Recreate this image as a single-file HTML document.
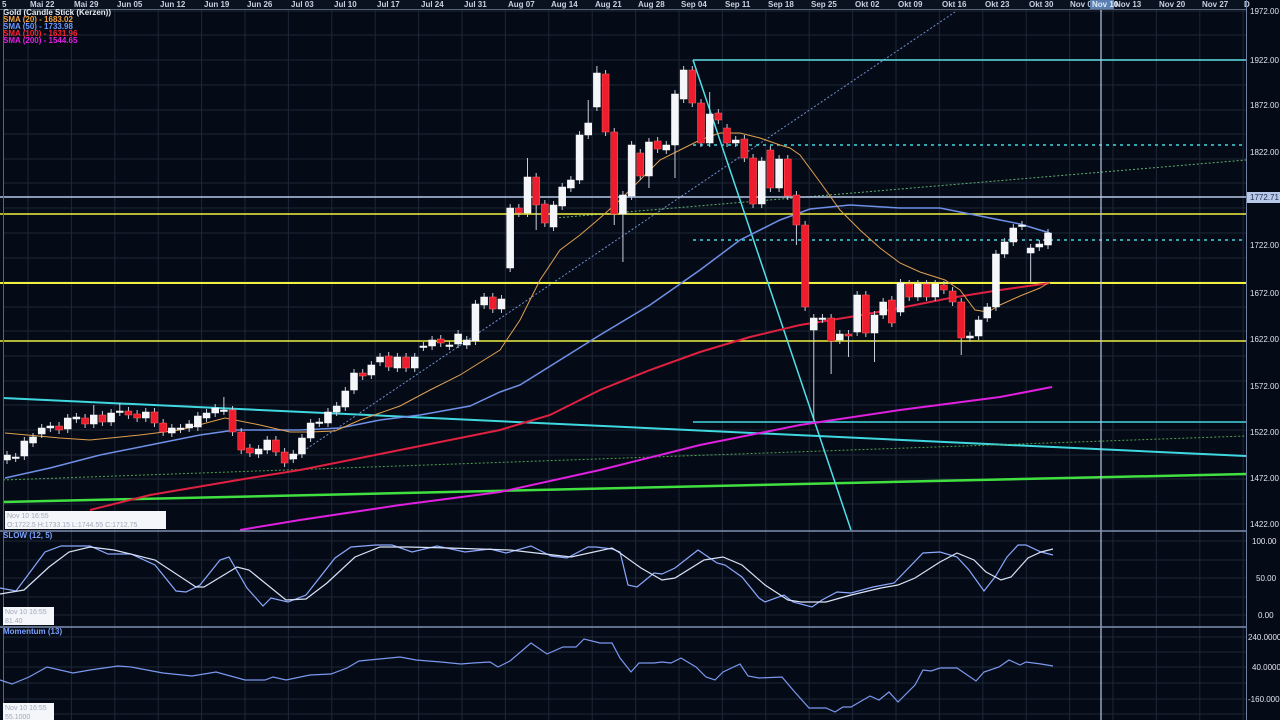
<!DOCTYPE html>
<html><head><meta charset="utf-8">
<style>
html,body{margin:0;padding:0;background:#050b16;width:1280px;height:720px;overflow:hidden}
svg{display:block}
text{font-family:"Liberation Sans",sans-serif}
</style></head>
<body>
<svg id="s" width="1280" height="720" xmlns="http://www.w3.org/2000/svg">
<rect width="1280" height="720" fill="#050b16"/>
<g id="grid" stroke="#1d2738" stroke-width="1"></g>
<!-- top date bar -->
<rect x="0" y="0" width="1246" height="9" fill="#0a1220"/>
<line x1="0" y1="9.5" x2="1246" y2="9.5" stroke="#5a6478"/>
<g font-size="8" font-weight="bold" fill="#c8d0e0" id="dates">
<text x="2" y="7">5</text>
<text x="30" y="7">Mai 22</text><text x="74" y="7">Mai 29</text><text x="117" y="7">Jun 05</text>
<text x="160" y="7">Jun 12</text><text x="204" y="7">Jun 19</text><text x="247" y="7">Jun 26</text>
<text x="291" y="7">Jul 03</text><text x="334" y="7">Jul 10</text><text x="377" y="7">Jul 17</text>
<text x="421" y="7">Jul 24</text><text x="464" y="7">Jul 31</text><text x="508" y="7">Aug 07</text>
<text x="551" y="7">Aug 14</text><text x="595" y="7">Aug 21</text><text x="638" y="7">Aug 28</text>
<text x="681" y="7">Sep 04</text><text x="725" y="7">Sep 11</text><text x="768" y="7">Sep 18</text>
<text x="811" y="7">Sep 25</text><text x="855" y="7">Okt 02</text><text x="898" y="7">Okt 09</text>
<text x="942" y="7">Okt 16</text><text x="985" y="7">Okt 23</text><text x="1029" y="7">Okt 30</text>
<text x="1070" y="7">Nov 0</text>
<text x="1115" y="7">Nov 13</text><text x="1159" y="7">Nov 20</text><text x="1202" y="7">Nov 27</text><text x="1244" y="7">D</text>
</g>
<rect x="1090" y="0" width="24" height="9" fill="#5a7fb0"/>
<text x="1092" y="7" font-size="8" font-weight="bold" fill="#dfe8f8">Nov 10</text>

<!-- legend -->
<g font-size="8" font-weight="bold">
<text x="3" y="15" fill="#e8ecf4">Gold (Candle Stick (Kerzen))</text>
<text x="3" y="22" fill="#f0a040">SMA (20) - 1683.02</text>
<text x="3" y="29" fill="#6f98ff">SMA (50) - 1733.98</text>
<text x="3" y="36" fill="#ff2030">SMA (100) - 1631.96</text>
<text x="3" y="43" fill="#e020e0">SMA (200) - 1544.65</text>
</g>

<!-- lines behind candles -->
<g fill="none">
<line x1="3" y1="398" x2="1246" y2="456" stroke="#40d8e0" stroke-width="2"/>
<line x1="3" y1="502" x2="1246" y2="474" stroke="#40e040" stroke-width="2.5"/>
<line x1="3" y1="480" x2="1246" y2="436" stroke="#50a050" stroke-width="1" stroke-dasharray="2,2"/>
<line x1="555" y1="218" x2="1246" y2="160" stroke="#60b070" stroke-width="1" stroke-dasharray="2,2"/>
<line x1="290" y1="460" x2="955" y2="12" stroke="#7090d0" stroke-width="1" stroke-dasharray="2,2"/>
<line x1="0" y1="214" x2="1246" y2="214" stroke="#f0f040" stroke-width="1.5"/>
<line x1="0" y1="283" x2="1246" y2="283" stroke="#f0f040" stroke-width="2"/>
<line x1="0" y1="341" x2="1246" y2="341" stroke="#f0f040" stroke-width="1.5"/>
<line x1="0" y1="197" x2="1246" y2="197" stroke="#b8c8e8" stroke-width="1.5"/>
<line x1="693" y1="60" x2="1246" y2="60" stroke="#60e0e8" stroke-width="1.5"/>
<line x1="693" y1="145" x2="1246" y2="145" stroke="#40d8e0" stroke-width="1.5" stroke-dasharray="3,4"/>
<line x1="693" y1="240" x2="1246" y2="240" stroke="#40d8e0" stroke-width="1.5" stroke-dasharray="3,4"/>
<line x1="693" y1="422" x2="1246" y2="422" stroke="#40d8e0" stroke-width="1.5"/>
<line x1="693" y1="60" x2="851" y2="530" stroke="#50e0e8" stroke-width="1.5"/>
<polyline stroke="#e020e0" stroke-width="2" points="240,530 300,520 400,505 500,492 600,470 700,445 800,425 900,410 1000,397 1052,387"/>
<polyline stroke="#e02040" stroke-width="2" points="90,510 150,495 250,478 300,470 400,450 500,430 550,415 600,390 650,370 700,352 750,337 800,325 850,317 900,308 950,298 1000,290 1050,283"/>
<polyline stroke="#6f90e8" stroke-width="1.5" points="5,478 50,468 100,455 150,445 200,435 235,430 300,430 340,428 380,420 420,415 470,406 500,392 520,385 560,360 600,335 650,305 700,270 740,240 780,220 810,209 850,205 900,208 940,208 980,216 1020,224 1050,233"/>
<polyline stroke="#e0a050" stroke-width="1" points="5,433 60,438 90,440 140,435 180,430 225,418 260,425 290,432 310,432 335,431 360,420 400,406 430,390 460,375 500,350 520,320 540,280 560,250 580,235 600,218 620,200 640,180 660,160 680,150 700,140 720,133 740,133 760,138 780,145 790,148 800,155 820,182 840,210 860,230 880,248 900,263 920,272 945,280 960,290 975,310 988,312 1000,305 1020,296 1040,288 1050,282"/>
</g>
<g id="candles"></g>

<!-- crosshair -->
<line x1="1101" y1="10" x2="1101" y2="720" stroke="#b8c8e8" stroke-width="1.2"/>

<!-- panel borders -->
<line x1="1246.5" y1="0" x2="1246.5" y2="720" stroke="#7080a0"/>
<line x1="0" y1="531" x2="1246" y2="531" stroke="#8090b0" stroke-width="1.5"/>
<line x1="0" y1="627" x2="1246" y2="627" stroke="#8090b0" stroke-width="1.5"/>
<line x1="3.5" y1="10" x2="3.5" y2="720" stroke="#5a6478"/>

<!-- right axis -->
<g font-size="8" fill="#e0e6f0">
<text x="1250" y="14">1972.00</text><text x="1250" y="63">1922.00</text><text x="1250" y="108">1872.00</text>
<text x="1250" y="155">1822.00</text><text x="1250" y="248">1722.00</text><text x="1250" y="296">1672.00</text>
<text x="1250" y="342">1622.00</text><text x="1250" y="389">1572.00</text><text x="1250" y="435">1522.00</text>
<text x="1250" y="481">1472.00</text><text x="1250" y="527">1422.00</text>
<text x="1252" y="544">100.00</text><text x="1256" y="581">50.00</text><text x="1258" y="618">0.00</text>
<text x="1248" y="640">240.0000</text><text x="1252" y="670">40.0000</text><text x="1248" y="702">-160.0000</text>
</g>
<rect x="1247" y="192" width="33" height="11" fill="#b8c8e8"/>
<text x="1250" y="200" font-size="8" fill="#203050">1772.71</text>

<!-- stochastic -->
<text x="3" y="538" font-size="8" font-weight="bold" fill="#7aa0ff">SLOW (12, 5)</text>
<g fill="none" stroke-width="1.2">
<polyline stroke="#8aa8ff" points="0,588 16,591 45,552 61,546 90,546 108,554 131,554 155,565 176,591 186,592 200,585 220,560 229,557 247,588 263,606 271,598 288,602 306,595 335,558 351,547 376,545 392,545 412,552 437,546 465,552 490,549 506,553 531,546 551,556 567,558 588,547 596,547 612,549 620,552 628,585 637,587 654,573 662,574 675,568 698,550 717,563 725,565 742,577 759,598 765,602 784,595 793,602 812,607 822,600 837,592 851,593 873,587 894,583 923,553 940,552 957,557 969,570 984,591 995,577 1007,557 1018,545 1026,545 1041,552 1053,555"/>
<polyline stroke="#d8e2f8" points="0,594 24,590 49,567 69,552 90,547 114,550 155,560 196,587 204,587 237,567 249,570 286,600 306,599 327,583 355,557 380,547 408,547 449,548 510,550 571,557 612,548 620,553 641,568 662,580 675,578 704,560 723,557 742,565 765,585 788,600 801,602 826,602 851,595 881,588 898,585 915,578 940,562 957,553 974,560 986,572 1001,580 1011,577 1028,558 1041,552 1053,549"/>
</g>
<!-- momentum -->
<text x="3" y="634" font-size="8" font-weight="bold" fill="#7aa0ff">Momentum (13)</text>
<polyline fill="none" stroke="#7a98f0" stroke-width="1.2" points="0,680 12,684 29,677 47,667 73,673 90,670 118,666 131,667 147,670 163,673 192,676 216,672 245,680 265,680 273,677 286,680 310,675 331,674 347,668 359,661 400,657 416,660 441,662 461,664 473,663 490,662 498,667 510,661 531,643 547,654 563,647 576,647 584,639 600,643 612,643 620,658 631,672 639,663 654,663 662,662 671,663 681,658 696,667 706,677 715,680 723,672 740,664 748,676 759,678 782,677 793,690 809,708 826,708 835,712 843,707 851,707 870,696 879,700 889,692 898,702 915,685 923,670 931,671 940,668 957,668 976,681 984,672 999,667 1009,660 1020,665 1026,662 1041,664 1053,666"/>

<!-- info boxes -->
<rect x="5" y="511" width="161" height="18" fill="#f4f6fa"/>
<text x="7" y="518" font-size="7" fill="#a0a8b8">Nov 10  16:55</text>
<text x="7" y="527" font-size="7" fill="#a0a8b8">O:1722.5 H:1733.15 L:1744.55 C:1712.75</text>
<rect x="3" y="607" width="51" height="18" fill="#f4f6fa"/>
<text x="5" y="614" font-size="7" fill="#a0a8b8">Nov 10  16:55</text>
<text x="5" y="623" font-size="7" fill="#a0a8b8">81.40</text>
<rect x="3" y="703" width="51" height="17" fill="#f4f6fa"/>
<text x="5" y="710" font-size="7" fill="#a0a8b8">Nov 10  16:55</text>
<text x="5" y="719" font-size="7" fill="#a0a8b8">55.1000</text>
</svg>
<script>
(function(){
var NS="http://www.w3.org/2000/svg";
function el(p,t,a){var e=document.createElementNS(NS,t);for(var k in a)e.setAttribute(k,a[k]);p.appendChild(e);return e;}
var g=document.getElementById("grid");
for(var i=0;i<29;i++){var x=28+i*43.4;el(g,"line",{x1:x,y1:10,x2:x,y2:720});}
var hy=[11,60,110,159,208,258,307,356,405,455,504,35,85,134,183,233,282,331,381,430,479,541,560,578,597,615,637,652,667,683,699,714];
hy.forEach(function(y){el(g,"line",{x1:3,y1:y,x2:1246,y2:y});});
// candles: [top,bottom,red?]
var C=[[455,460,0],[457,458,0],[441,456,0],[437,443,0],[428,434,0],[426,428,0],[426,430,1],[418,429,0],[417,419,0],[418,424,1],[415,424,0],[415,422,1],[413,422,0],[411,412,0],[411,415,1],[414,418,1],[412,418,0],[412,423,1],[423,432,1],[428,433,0],[428,429,0],[424,428,0],[416,427,0],[413,418,0],[408,413,0],[410,411,0],[410,432,1],[432,450,1],[448,453,1],[449,454,0],[440,450,0],[440,452,1],[452,463,1],[454,459,0],[438,454,0],[423,438,0],[422,423,0],[412,423,0],[406,412,0],[391,407,0],[373,390,0],[373,376,1],[365,375,0],[357,362,0],[356,367,1],[357,368,0],[357,368,1],[357,368,0],[346,347,0],[340,346,0],[339,343,1],[345,346,0],[334,344,0],[340,345,0],[304,341,0],[297,305,0],[297,309,1],[299,309,0],[208,268,0],[208,213,1],[177,213,0],[177,205,1],[204,223,1],[205,227,0],[187,206,0],[180,188,0],[135,180,0],[123,135,0],[73,107,0],[74,132,1],[132,214,1],[195,214,0],[145,196,0],[153,176,1],[142,176,0],[141,149,1],[145,150,0],[94,145,0],[70,99,0],[70,103,1],[103,143,1],[114,143,0],[113,120,1],[128,143,1],[140,143,0],[139,158,1],[158,204,1],[161,204,0],[150,188,1],[159,188,0],[159,196,1],[195,225,1],[225,307,1],[318,330,0],[318,319,0],[318,341,1],[334,340,0],[334,336,1],[295,332,0],[295,333,1],[315,333,0],[302,315,0],[300,323,1],[283,312,0],[284,297,1],[284,297,0],[284,297,1],[284,297,0],[285,290,1],[291,302,1],[302,338,1],[336,338,0],[320,336,0],[307,318,0],[254,307,0],[242,254,0],[228,242,0],[225,226,0],[248,253,0],[244,247,0],[233,245,0]];
var wk={25:[397,0],58:[0,272],60:[158,0],61:[0,230],67:[100,0],68:[66,0],70:[0,225],71:[0,262],74:[0,188],77:[0,178],78:[66,0],81:[92,0],91:[0,245],93:[0,420],95:[0,374],97:[0,357],100:[0,362],110:[0,355],118:[0,282],10:[405,0],13:[403,0]};
var cg=document.getElementById("candles");
C.forEach(function(c,i){
 var x=7+i*8.675, hi=c[0]-4, lo=c[1]+4;
 if(wk[i]){if(wk[i][0])hi=wk[i][0];if(wk[i][1])lo=wk[i][1];}
 el(cg,"line",{x1:x,y1:hi,x2:x,y2:lo,stroke:"#c8cedc","stroke-width":1});
 var h=Math.max(1.5,c[1]-c[0]);
 el(cg,"rect",{x:x-3.5,y:c[0],width:7,height:h,fill:c[2]?"#ee1c2c":"#f4f6fa",stroke:c[2]?"#ff6060":"#ffffff","stroke-width":0.5});
});
})();
</script>
</body></html>
